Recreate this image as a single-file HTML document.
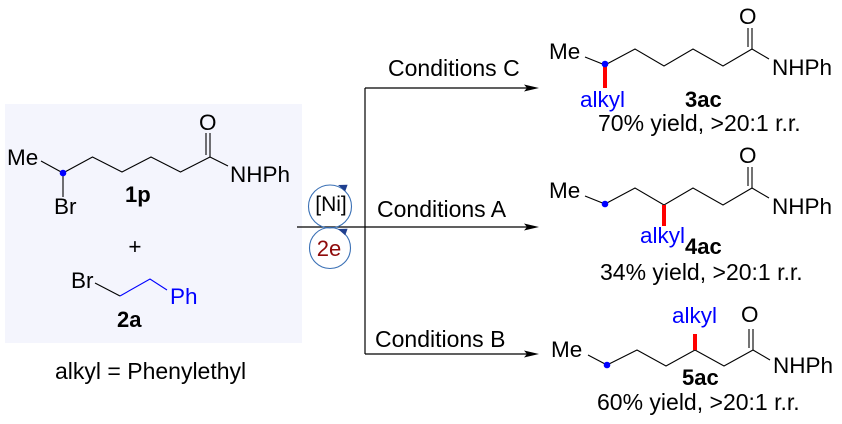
<!DOCTYPE html>
<html><head><meta charset="utf-8"><style>
html,body{margin:0;padding:0;background:#fff;}
svg{display:block;}
text{font-family:"Liberation Sans",Arial,sans-serif;font-size:22.5px;fill:#000;}
.b{font-weight:bold;font-size:22px;}
.bl{fill:#0000ff;}
</style></head><body>
<svg width="842" height="424" viewBox="0 0 842 424" xmlns="http://www.w3.org/2000/svg">
<rect x="5" y="104" width="297" height="239" fill="#f4f5fd"/>

<!-- 1p -->
<g stroke="#000" stroke-width="1.1" fill="none">
<line x1="41" y1="161" x2="63" y2="173"/>
<line x1="63" y1="173" x2="63" y2="197"/>
<polyline points="63,173 92.5,157 122,172 151,157 180.5,172 210,157"/>
<line x1="210" y1="157" x2="210" y2="133"/>
<line x1="206" y1="155" x2="206" y2="133"/>
<line x1="210" y1="157" x2="228" y2="166"/>
</g>
<circle cx="63" cy="173" r="3.3" fill="#0000ff"/>
<text x="7" y="165">Me</text>
<text x="54" y="214">Br</text>
<text x="199" y="130">O</text>
<text x="230" y="182">NHPh</text>
<text class="b" x="125" y="202">1p</text>
<text x="135" y="254" text-anchor="middle">+</text>

<!-- 2a -->
<line x1="95" y1="283" x2="120" y2="296" stroke="#000" stroke-width="1.1"/>
<polyline points="120,296 150,279 167,290" stroke="#0000ff" stroke-width="1.1" fill="none"/>
<text x="71" y="288">Br</text>
<text class="bl" x="170" y="304">Ph</text>
<text class="b" x="117" y="327">2a</text>
<text x="55" y="379" style="font-size:23px">alkyl = Phenylethyl</text>

<!-- arrows -->
<g stroke="#000" stroke-width="1.2" fill="none">
<line x1="297" y1="227" x2="528" y2="227"/>
<line x1="365" y1="88" x2="365" y2="354"/>
<line x1="365" y1="88" x2="528" y2="88"/>
<line x1="365" y1="354" x2="528" y2="354"/>
</g>
<polygon points="539,88 524,84.5 527,88 524,91.5" fill="#000"/>
<polygon points="539,227 524,223.5 527,227 524,230.5" fill="#000"/>
<polygon points="539,354 524,350.5 527,354 524,357.5" fill="#000"/>
<text x="388" y="76" style="font-size:23px">Conditions C</text>
<text x="377" y="217" style="font-size:23px">Conditions A</text>
<text x="375" y="347" style="font-size:23px">Conditions B</text>

<!-- Ni / 2e circles -->
<circle cx="330" cy="206.5" r="21.5" stroke="#3a70b5" stroke-width="1.1" fill="none"/>
<circle cx="330" cy="248" r="20.5" stroke="#3a70b5" stroke-width="1.1" fill="none"/>
<polygon points="338,185 347.6,184.8 345.2,191.4" fill="#1f3f8f"/>
<polygon points="338,229 347.6,228.8 345.2,235.4" fill="#1f3f8f"/>
<text x="331" y="211" text-anchor="middle" style="font-size:21px">[Ni]</text>
<text x="329" y="256" text-anchor="middle" style="font-size:22px;fill:#8f0a0a">2e</text>

<!-- 3ac -->
<g stroke="#000" stroke-width="1.1" fill="none">
<line x1="585" y1="57" x2="605" y2="65"/>
<polyline points="605,65 635,49 664,66 693,49 723,66 752,49"/>
<line x1="752" y1="49" x2="752" y2="28"/>
<line x1="748" y1="47" x2="748" y2="28"/>
<line x1="752" y1="49" x2="769" y2="59"/>
</g>
<line x1="605" y1="65" x2="605" y2="88" stroke="#ff0000" stroke-width="4"/>
<circle cx="605" cy="64" r="3.3" fill="#0000ff"/>
<text x="549" y="59">Me</text>
<text x="739" y="24">O</text>
<text x="772" y="75">NHPh</text>
<text class="bl" x="580" y="107">alkyl</text>
<text class="b" x="685" y="107">3ac</text>
<text x="598" y="131" style="font-size:23px">70% yield, &gt;20:1 r.r.</text>

<!-- 4ac -->
<g stroke="#000" stroke-width="1.1" fill="none">
<line x1="585" y1="196" x2="605" y2="204"/>
<polyline points="605,204 635,188 664,205 693,188 723,205 752,188"/>
<line x1="752" y1="188" x2="752" y2="167"/>
<line x1="748" y1="186" x2="748" y2="167"/>
<line x1="752" y1="188" x2="769" y2="198"/>
</g>
<line x1="664" y1="205" x2="664" y2="226" stroke="#ff0000" stroke-width="4"/>
<circle cx="605" cy="204" r="3.3" fill="#0000ff"/>
<text x="549" y="198">Me</text>
<text x="739" y="163">O</text>
<text x="772" y="214">NHPh</text>
<text class="bl" x="640" y="243">alkyl</text>
<text class="b" x="685" y="254">4ac</text>
<text x="600" y="280" style="font-size:23px">34% yield, &gt;20:1 r.r.</text>

<!-- 5ac -->
<g stroke="#000" stroke-width="1.1" fill="none">
<line x1="588" y1="355" x2="607" y2="365"/>
<polyline points="607,365 637,350 666,366 695,350 724,366 753,350"/>
<line x1="753" y1="350" x2="753" y2="329"/>
<line x1="749" y1="348" x2="749" y2="329"/>
<line x1="753" y1="350" x2="770" y2="360"/>
</g>
<line x1="695" y1="350" x2="695" y2="334" stroke="#ff0000" stroke-width="4"/>
<circle cx="607" cy="365" r="3.3" fill="#0000ff"/>
<text x="551" y="357">Me</text>
<text x="741" y="322">O</text>
<text x="773" y="373">NHPh</text>
<text class="bl" x="672" y="323">alkyl</text>
<text class="b" x="682" y="385">5ac</text>
<text x="597" y="410" style="font-size:23px">60% yield, &gt;20:1 r.r.</text>
</svg>
</body></html>
